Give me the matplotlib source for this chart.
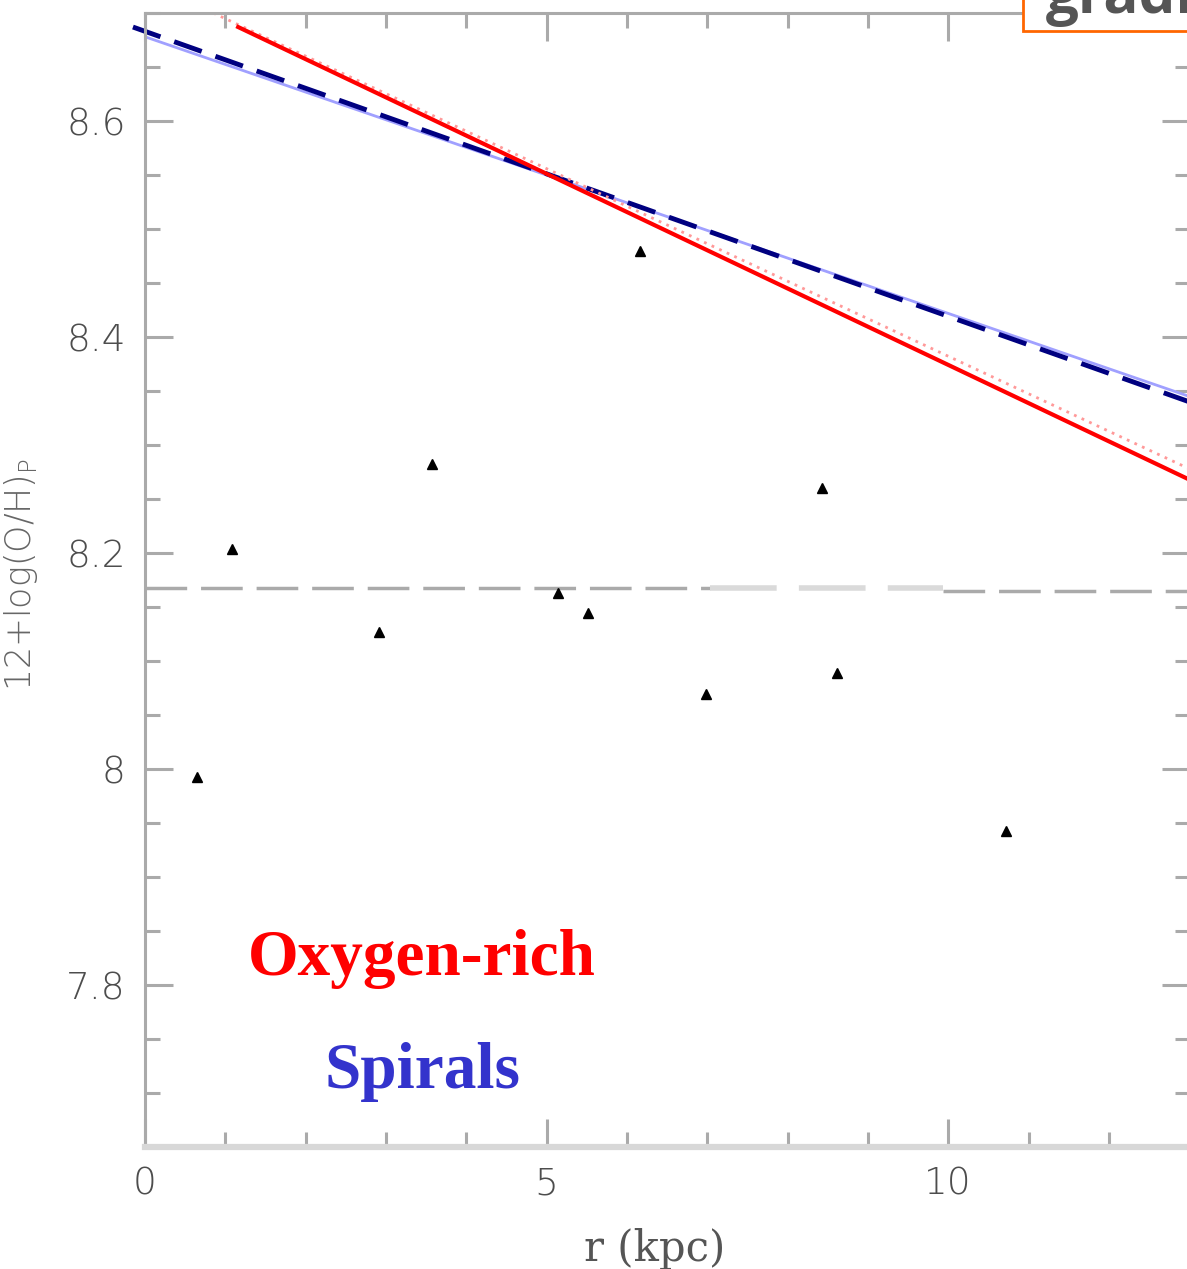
import matplotlib
matplotlib.use("Agg")
import matplotlib.pyplot as plt
from matplotlib.patches import Rectangle

# measured HII-region abundances
r_kpc = [0.65, 1.08, 2.91, 3.57, 5.14, 5.52, 6.16, 6.99, 8.43, 8.61, 10.72]
oh = [7.993, 8.204, 8.127, 8.282, 8.163, 8.144, 8.480, 8.069, 8.260, 8.089, 7.943]

# gradient lines (end points)
red_x = [1.16, 13.0]
red_y = [8.687, 8.268]
red_dot_x = [0.85, 13.0]
red_dot_y = [8.700, 8.278]
navy_x = [-0.15, 13.0]
navy_y = [8.687, 8.340]
lblue_x = [0.0, 13.0]
lblue_y = [8.678, 8.345]
mean_oh = 8.168

W, H = 1187, 1269
fig = plt.figure(figsize=(W / 100, H / 100), dpi=100)
ax = fig.add_axes([145 / W, (H - 1147) / H, (1190 - 145) / W, (1147 - 13) / H])

grey = "#aaaaaa"

# mean line, partly faded like the scan
ax.plot([0, 7.04], [mean_oh, mean_oh], color=grey, lw=2.5, dashes=(12, 4))
ax.plot([7.04, 9.94], [mean_oh, mean_oh], color="#dadada", lw=4, dashes=(12, 4))
ax.plot([9.94, 13.1], [mean_oh - 0.003, mean_oh - 0.003], color=grey, lw=2.5, dashes=(12, 4))

ax.plot(lblue_x, lblue_y, color="#a0a0ff", lw=2)
ax.plot(navy_x, navy_y, color="#000080", lw=3.5, dashes=(6, 3), clip_on=False)
ax.plot(red_dot_x, red_dot_y, color="#ff9999", lw=2, ls=(0, (1, 2)))
ax.plot(red_x, red_y, color="red", lw=3)

ax.plot(r_kpc, oh, ls="none", marker="^", ms=7, color="black")

ax.set_xlim(0, 13.01)
ax.set_ylim(7.65, 8.70)
ax.set_xticks([0, 5, 10])
ax.set_xticks(range(0, 14), minor=True)
ax.set_yticks([7.8, 8.0, 8.2, 8.4, 8.6])
ax.set_yticklabels(["7.8", "8", "8.2", "8.4", "8.6"])
ax.set_yticks([7.65 + 0.05 * i for i in range(22)], minor=True)

ax.tick_params(which="both", direction="in", top=True, right=True,
               color=grey, width=2.2, labelcolor="#4d4d4d", labelsize=27, pad=14)
ax.tick_params(which="major", length=20)
ax.tick_params(which="minor", length=11)
for lab in ax.get_xticklabels() + ax.get_yticklabels():
    lab.set_fontweight("light")

for side in ["left", "top", "right"]:
    ax.spines[side].set_color(grey)
    ax.spines[side].set_linewidth(2.2)
ax.spines["bottom"].set_color("#d8d8d8")
ax.spines["bottom"].set_linewidth(4.5)

ax.set_xlabel("r (kpc)", family="DejaVu Serif", fontsize=30, color="#555555",
              fontweight="light")
ax.xaxis.set_label_coords((655 - 145) / 1045, -(1228 - 1147) / 1134)
ax.set_ylabel(r"12+log(O/H)$_\mathregular{P}$", fontsize=25, color="#666666",
              fontweight="light")
ax.yaxis.set_label_coords(-(145 - 40) / 1045, (1147 - 575) / 1134)

fig.text(248 / W, 1 - 975 / H, "Oxygen-rich", color="red", family="Liberation Serif",
         fontweight="bold", fontsize=47, va="baseline")
fig.text(324 / W, 1 - 1088 / H, "Spirals", color="#3333cc", family="Liberation Serif",
         fontweight="bold", fontsize=47, va="baseline")

# cropped orange title box at the top right
fig.patches.append(Rectangle((1023 / W, 1 - 31 / H), 0.2, 0.05, transform=fig.transFigure,
                             fill=True, facecolor="white", edgecolor="#ff6600", lw=2))
fig.text(1046 / W, 1 - 13 / H, "gradient", color="#555555", family="Open Sans",
         fontweight="bold", fontsize=42, va="baseline")

fig.savefig("out.png", dpi=100)
